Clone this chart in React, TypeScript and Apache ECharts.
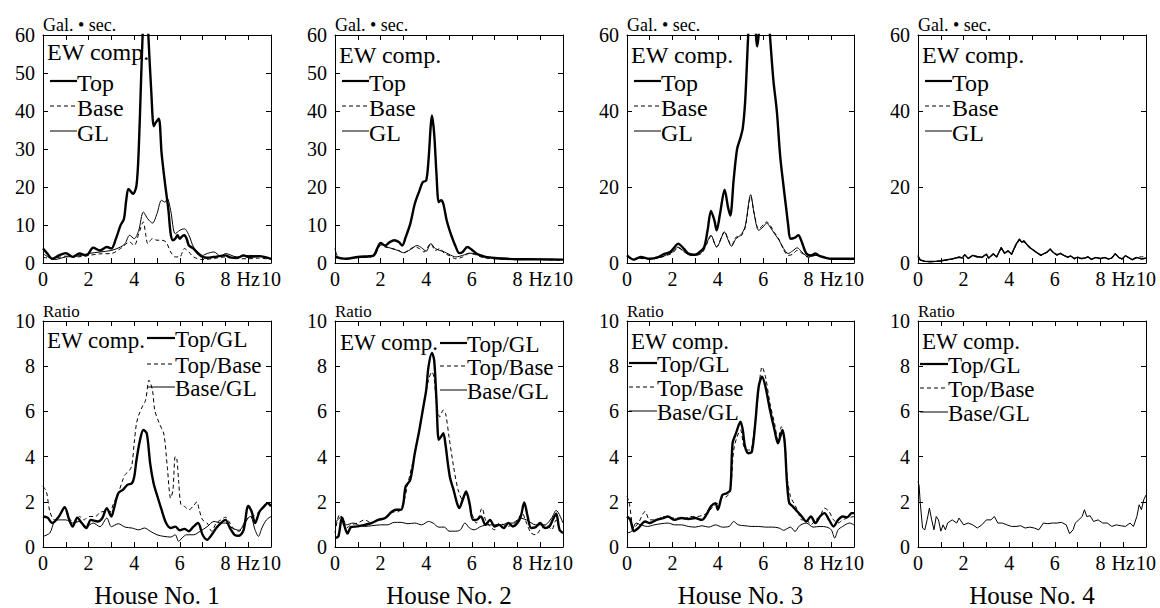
import React, { useEffect, useRef } from 'react';
import * as echarts from 'echarts';

// ---------- Data: [frequency (Hz), value] ----------
// Top row: Fourier spectra (Gal·sec)
const h1Top = [[0,3.8],[0.2,2.4],[0.4,1.1],[0.7,2.0],[1.0,2.6],[1.3,1.6],[1.6,2.5],[1.9,2.0],[2.2,4.0],[2.5,3.3],[2.8,4.2],[3.0,3.8],[3.2,6.4],[3.4,9.9],[3.55,11.6],[3.65,16.5],[3.75,19.5],[3.95,18.2],[4.1,20.4],[4.2,30],[4.3,48],[4.37,60],[4.45,72],[4.55,70],[4.62,60],[4.75,45],[4.86,36],[4.95,37],[5.08,38],[5.2,29],[5.35,21],[5.5,14],[5.6,7.7],[5.7,6],[5.8,6.4],[5.9,7.3],[6.0,6.4],[6.1,7],[6.2,7.3],[6.3,6.4],[6.4,4.6],[6.6,3.8],[6.8,2.5],[7.0,1.6],[7.2,1.4],[7.5,1.6],[8.0,2],[8.2,1.5],[8.5,1.3],[8.8,2],[9.0,1.6],[9.5,1.8],[10,1.1]];
const h1Base = [[0,1.5],[0.4,1.2],[1.0,1.8],[1.5,1.6],[2.0,2.0],[2.5,2.4],[3.0,2.5],[3.4,3.8],[3.8,5.5],[4.0,4.6],[4.2,7.7],[4.4,10.8],[4.5,7.7],[4.6,5.1],[4.8,6.4],[5.0,6.0],[5.2,6.0],[5.4,5.5],[5.6,2.9],[5.8,1.6],[6.0,1.6],[6.2,3.8],[6.4,2.9],[6.6,1.6],[7.0,0.9],[7.5,1.2],[8.0,1.6],[8.5,1.2],[9.0,1.1],[9.5,1.3],[10,0.9]];
const h1GL = [[0,2.5],[0.5,0.9],[1.0,1.6],[1.5,1.8],[2.0,2.5],[2.5,2.9],[3.0,3.3],[3.4,4.2],[3.6,5.1],[3.8,7.3],[4.0,6.4],[4.2,8.6],[4.4,13.4],[4.6,11.6],[4.8,10.5],[5.0,13],[5.2,16.5],[5.35,16],[5.45,17],[5.6,13.8],[5.8,7.7],[6.0,8.6],[6.2,9.0],[6.4,7.3],[6.6,4.2],[6.8,2.9],[7.0,2.0],[7.2,2.5],[7.5,2.9],[7.8,1.7],[8.0,2.5],[8.5,1.6],[9.0,2.0],[9.5,1.8],[10,1.1]];

const h2Top = [[0,1.6],[0.5,1.1],[1,1.6],[1.5,1.8],[1.7,2.0],[1.85,3.8],[2.0,5.3],[2.2,4.6],[2.4,5.5],[2.6,6.0],[2.8,5.5],[2.95,4.6],[3.1,6.8],[3.3,10.3],[3.5,15.6],[3.7,19],[3.85,21.3],[4.0,21.7],[4.1,27],[4.2,36.2],[4.25,38.8],[4.35,34],[4.45,23.5],[4.55,16],[4.65,16.5],[4.75,15.6],[4.9,11.2],[5.1,7.3],[5.3,4.2],[5.45,2.6],[5.6,2.9],[5.8,4.2],[6.0,3.5],[6.2,2.5],[6.4,2.0],[6.6,1.6],[7,1.3],[7.5,1.1],[8,1.0],[9,0.95],[10,0.9]];
const h2Base = [[0,1.4],[0.5,1.1],[1,1.4],[1.7,1.8],[1.9,3.8],[2.0,4.6],[2.2,4.2],[2.5,3.8],[2.8,3.3],[3.0,2.6],[3.2,3.3],[3.5,4.2],[3.7,3.8],[3.9,2.9],[4.2,5.1],[4.4,3.3],[4.6,3.8],[4.8,2.5],[5.0,2.0],[5.3,1.1],[5.6,1.6],[5.9,2.5],[6.2,2.1],[6.5,1.4],[7,1.1],[8,0.9],[9,0.9],[10,0.7]];
const h2GL = [[0,3.8],[0.2,1.1],[1,1.4],[1.7,1.8],[1.9,4.2],[2.0,5.0],[2.2,4.4],[2.5,3.8],[2.8,3.2],[3.0,2.7],[3.3,3.5],[3.6,4.6],[3.8,4.0],[4.0,3.1],[4.2,5.1],[4.4,3.8],[4.6,3.3],[4.8,2.9],[5.0,2.3],[5.3,1.6],[5.6,2.0],[5.9,2.6],[6.2,2.3],[6.5,1.6],[7,1.4],[8,1.1],[9,1.0],[10,0.9]];

const h3Top = [[0,2.0],[0.3,0.9],[0.6,1.6],[1,1.1],[1.4,1.6],[1.6,2.3],[1.9,2.9],[2.1,4.2],[2.25,5.1],[2.5,3.8],[2.7,2.5],[3.0,2.2],[3.2,2.9],[3.4,4.2],[3.55,8.6],[3.7,13.7],[3.85,11.2],[3.95,8.6],[4.1,13],[4.3,19.3],[4.45,14.7],[4.55,12.5],[4.7,22],[4.85,30],[5.0,33],[5.1,35.5],[5.2,42],[5.28,52],[5.34,60],[5.45,70],[5.6,66],[5.74,57],[5.8,60],[5.95,72],[6.1,74],[6.25,64],[6.32,58],[6.45,48],[6.6,40],[6.75,28],[6.9,20],[7.0,15],[7.1,10],[7.2,6.4],[7.4,6.7],[7.55,7.3],[7.7,5.5],[7.9,2.5],[8.1,2.0],[8.3,2.5],[8.5,1.8],[9,1.1],[10,1.1]];
const h3Base = [[0,1.8],[0.3,0.8],[0.6,1.2],[1,1.0],[1.5,1.5],[2.0,2.6],[2.25,4.0],[2.5,3.0],[2.8,2.0],[3.0,2.0],[3.3,2.6],[3.5,4.8],[3.7,7.0],[3.95,4.3],[4.3,8.3],[4.45,6.3],[4.6,4.6],[4.8,6.8],[5.0,7.0],[5.2,9.2],[5.45,17.5],[5.6,13.2],[5.8,9.0],[6.0,10.0],[6.15,10.8],[6.3,10.0],[6.5,8.0],[6.7,6.2],[6.9,3.5],[7.1,2.0],[7.3,2.3],[7.5,3.3],[7.7,2.6],[8.0,1.5],[8.3,2.0],[8.6,1.5],[9,1.0],[10,0.9]];
const h3GL = [[0,2],[0.3,0.9],[0.6,1.3],[1,1.1],[1.5,1.6],[2.0,2.9],[2.25,4.2],[2.5,3.1],[2.8,2.0],[3.0,2.0],[3.3,2.9],[3.5,5.1],[3.7,7.3],[3.95,4.2],[4.3,8.1],[4.45,6.1],[4.6,4.4],[4.8,6.4],[5.0,7.3],[5.2,9.5],[5.45,18],[5.6,13],[5.8,8.6],[6.0,9.5],[6.15,10.5],[6.3,9.5],[6.5,7.7],[6.7,6],[6.9,3.8],[7.1,2.5],[7.3,3.2],[7.5,4.0],[7.7,2.9],[8.0,1.6],[8.3,2.0],[8.6,1.6],[9,1.1],[10,1.0]];

const h4Top = [[0,1.8],[0.1,0.8],[0.3,0.5],[0.5,0.4],[0.8,0.5],[1.0,0.6],[1.2,0.8],[1.5,1.1],[1.8,1.5],[1.95,1.3],[2.05,2.2],[2.2,1.2],[2.4,2.0],[2.6,1.7],[2.8,1.5],[3.0,2.3],[3.1,1.3],[3.3,2.4],[3.45,1.6],[3.65,4.0],[3.8,2.6],[3.95,3.2],[4.1,2.3],[4.3,4.9],[4.45,6.2],[4.55,5.5],[4.65,5.8],[4.8,4.7],[4.95,3.9],[5.1,3.2],[5.25,2.6],[5.4,2.1],[5.5,2.4],[5.65,2.8],[5.8,3.6],[5.95,2.7],[6.1,2.2],[6.25,2.5],[6.4,2.0],[6.55,1.6],[6.7,1.8],[6.85,1.2],[7.0,1.5],[7.15,1.2],[7.3,1.3],[7.45,1.6],[7.6,1.0],[7.8,1.4],[8.0,1.2],[8.2,1.4],[8.35,1.1],[8.5,1.3],[8.65,2.4],[8.8,1.5],[8.95,1.1],[9.1,1.9],[9.25,1.4],[9.4,0.9],[9.6,1.4],[9.8,1.1],[10,1.3]];
const h4Base = [[0,1.6],[0.1,0.6],[0.3,0.4],[0.5,0.3],[0.8,0.4],[1.0,0.5],[1.2,0.7],[1.5,1.0],[1.8,1.5],[1.95,1.3],[2.05,2.1],[2.2,1.1],[2.4,1.9],[2.6,1.5],[2.8,1.4],[3.0,2.2],[3.1,1.2],[3.3,2.3],[3.45,1.5],[3.65,4.0],[3.8,2.4],[3.95,3.1],[4.1,2.1],[4.3,4.7],[4.45,6.0],[4.55,5.3],[4.65,5.6],[4.8,4.5],[4.95,3.7],[5.1,3.2],[5.25,2.4],[5.4,1.9],[5.5,2.3],[5.65,2.8],[5.8,3.6],[5.95,2.5],[6.1,2.0],[6.25,2.5],[6.4,1.9],[6.55,1.4],[6.7,1.8],[6.85,1.0],[7.0,1.5],[7.15,1.1],[7.3,1.1],[7.45,1.6],[7.6,0.9],[7.8,1.4],[8.0,1.1],[8.2,1.4],[8.35,1.0],[8.5,1.3],[8.65,2.4],[8.8,1.4],[8.95,1.0],[9.1,1.9],[9.25,1.4],[9.4,1.0],[9.6,1.6],[9.8,1.6],[10,1.8]];
const h4GL = [[0,2],[0.1,0.7],[0.3,0.4],[0.5,0.3],[0.8,0.4],[1.0,0.5],[1.2,0.7],[1.5,1.1],[1.8,1.6],[1.95,1.4],[2.05,2.3],[2.2,1.2],[2.4,2.0],[2.6,1.6],[2.8,1.5],[3.0,2.4],[3.1,1.2],[3.3,2.5],[3.45,1.6],[3.65,4.2],[3.8,2.5],[3.95,3.3],[4.1,2.2],[4.3,5.0],[4.45,6.4],[4.55,5.4],[4.65,5.9],[4.8,4.6],[4.95,3.8],[5.1,3.3],[5.25,2.5],[5.4,2.0],[5.5,2.4],[5.65,2.9],[5.8,3.8],[5.95,2.6],[6.1,2.1],[6.25,2.6],[6.4,2.0],[6.55,1.5],[6.7,1.9],[6.85,1.1],[7.0,1.6],[7.15,1.2],[7.3,1.2],[7.45,1.7],[7.6,0.9],[7.8,1.5],[8.0,1.2],[8.2,1.5],[8.35,1.0],[8.5,1.3],[8.65,2.6],[8.8,1.4],[8.95,1.0],[9.1,2.0],[9.25,1.3],[9.4,0.8],[9.6,1.5],[9.8,1.0],[10,1.2]];

// Bottom row: spectral ratios
const r1TopGL = [[0,1.35],[0.2,1.3],[0.4,1.06],[0.7,1.35],[0.95,1.76],[1.15,1.2],[1.3,0.9],[1.5,1.3],[1.7,1.06],[1.9,0.84],[2.1,1.2],[2.4,1.13],[2.6,1.28],[2.8,1.72],[3.0,1.35],[3.1,1.65],[3.3,2.38],[3.5,2.53],[3.7,2.75],[3.9,2.82],[4.0,3.1],[4.1,3.85],[4.25,4.7],[4.4,5.18],[4.55,5.03],[4.7,3.7],[4.85,2.82],[5.0,2.3],[5.2,1.65],[5.4,1.06],[5.6,0.84],[5.8,0.9],[6.0,0.74],[6.2,0.8],[6.4,0.7],[6.6,0.9],[6.8,1.06],[7.0,0.54],[7.2,0.32],[7.4,0.54],[7.6,0.84],[7.8,1.06],[8.0,1.2],[8.2,0.84],[8.4,0.54],[8.6,0.5],[8.8,0.76],[9.0,1.82],[9.15,1.57],[9.3,1.06],[9.5,1.57],[9.7,1.8],[9.85,1.94],[10,1.8]];
const r1TopBase = [[0,2.68],[0.15,2.45],[0.3,1.57],[0.5,1.2],[0.7,1.35],[0.95,1.72],[1.2,1.2],[1.4,1.06],[1.6,1.35],[1.8,1.2],[2.0,1.35],[2.3,1.35],[2.5,1.53],[2.7,1.57],[2.9,1.5],[3.1,1.94],[3.3,2.38],[3.5,2.97],[3.6,3.2],[3.8,3.4],[3.9,3.63],[4.0,4.6],[4.1,5.47],[4.2,5.84],[4.35,6.2],[4.5,6.5],[4.65,7.38],[4.8,6.94],[4.9,6.06],[5.1,5.47],[5.3,5.0],[5.45,3.56],[5.6,2.16],[5.7,2.53],[5.8,4.0],[5.87,3.9],[5.95,2.9],[6.05,1.87],[6.2,1.8],[6.4,1.65],[6.6,1.82],[6.75,2.0],[6.85,1.65],[7.0,1.2],[7.2,1.06],[7.4,0.7],[7.6,1.06],[7.8,1.2],[8.0,1.32],[8.2,1.06],[8.4,0.76],[8.6,0.7],[8.8,0.91],[9.0,1.28],[9.2,1.35],[9.4,1.5],[9.6,1.65],[9.8,1.94],[10,1.94]];
const r1BaseGL = [[0,0.47],[0.3,0.62],[0.5,1.13],[0.7,1.2],[1.0,1.2],[1.3,1.06],[1.6,1.13],[1.9,0.9],[2.2,1.06],[2.5,0.9],[2.8,1.28],[3.0,0.9],[3.3,1.03],[3.6,0.88],[3.9,0.84],[4.2,0.76],[4.45,0.84],[4.7,0.7],[5.0,0.54],[5.3,0.47],[5.6,0.44],[5.8,0.54],[5.95,0.25],[6.1,0.4],[6.3,0.54],[6.6,0.54],[6.9,0.7],[7.2,0.9],[7.5,1.13],[7.8,1.06],[8.0,1.06],[8.3,0.84],[8.6,0.74],[8.9,1.2],[9.1,1.35],[9.3,0.76],[9.45,0.47],[9.6,0.84],[9.8,1.2],[10,1.35]];

const r2TopGL = [[0,0.4],[0.15,0.47],[0.3,1.28],[0.4,0.98],[0.55,0.59],[0.7,0.88],[1.0,0.91],[1.3,0.98],[1.6,1.06],[1.9,1.2],[2.2,1.28],[2.5,1.57],[2.7,1.65],[2.9,1.65],[3.0,1.94],[3.1,2.68],[3.3,2.97],[3.5,4.15],[3.7,5.18],[3.9,6.35],[4.0,6.94],[4.1,7.97],[4.25,8.59],[4.35,8.26],[4.45,6.5],[4.55,4.74],[4.65,4.88],[4.75,5.03],[4.85,4.5],[4.95,3.7],[5.05,3.04],[5.2,2.53],[5.35,1.94],[5.45,1.72],[5.6,2.09],[5.75,2.46],[5.9,1.94],[6.05,1.2],[6.2,1.2],[6.4,1.35],[6.6,0.98],[6.8,1.2],[7.0,0.91],[7.2,0.98],[7.4,0.84],[7.6,1.06],[7.8,0.91],[8.0,1.06],[8.15,1.35],[8.3,1.97],[8.45,1.35],[8.6,0.84],[8.8,0.88],[9.0,1.06],[9.2,0.84],[9.4,0.91],[9.55,1.2],[9.7,1.47],[9.85,0.76],[10,0.62]];
const r2TopBase = [[0,0.62],[0.2,1.43],[0.35,1.2],[0.5,0.84],[0.7,0.98],[1.0,1.06],[1.3,1.2],[1.6,1.06],[1.9,1.2],[2.2,1.28],[2.5,1.53],[2.8,1.57],[3.0,1.94],[3.2,2.82],[3.5,4.15],[3.7,5.18],[3.9,6.35],[4.1,7.38],[4.25,7.75],[4.35,7.46],[4.45,6.35],[4.6,5.76],[4.75,6.06],[4.85,5.91],[5.0,4.88],[5.2,3.56],[5.4,2.53],[5.6,2.09],[5.75,2.38],[5.95,1.65],[6.2,1.06],[6.45,1.72],[6.6,1.2],[6.8,0.91],[7.0,0.76],[7.2,1.06],[7.4,0.98],[7.6,0.91],[7.8,1.06],[8.0,1.2],[8.2,1.5],[8.4,1.06],[8.6,0.62],[8.8,0.54],[9.0,0.76],[9.3,0.98],[9.5,0.76],[9.7,1.2],[9.85,0.76],[10,0.62]];
const r2BaseGL = [[0,1.06],[0.3,1.35],[0.5,0.98],[0.8,1.06],[1.0,0.98],[1.3,0.91],[1.6,0.94],[2.0,0.98],[2.3,0.98],[2.6,1.09],[2.9,1.09],[3.2,1.03],[3.5,1.06],[3.8,0.98],[4.1,1.13],[4.3,1.06],[4.55,0.88],[4.8,0.88],[5.0,0.7],[5.3,0.7],[5.5,0.76],[5.7,1.06],[5.9,0.84],[6.1,0.76],[6.4,0.91],[6.7,0.98],[7.0,0.98],[7.3,0.98],[7.6,1.06],[7.9,1.06],[8.1,1.28],[8.4,1.2],[8.8,0.98],[9.2,0.98],[9.5,1.28],[9.7,1.62],[10,1.06]];

const r3TopGL = [[0,1.35],[0.15,1.2],[0.3,0.7],[0.5,0.84],[0.8,1.13],[1.0,1.06],[1.3,1.2],[1.6,1.28],[1.8,1.35],[2.1,1.2],[2.4,1.28],[2.7,1.24],[3.0,1.28],[3.3,1.2],[3.5,1.43],[3.7,1.8],[3.9,1.94],[4.0,1.65],[4.2,2.3],[4.4,2.38],[4.55,2.53],[4.65,4.59],[4.8,5.03],[5.0,5.54],[5.1,5.18],[5.2,4.44],[5.35,4.15],[5.5,4.22],[5.65,5.47],[5.8,7.09],[5.95,7.53],[6.1,7.09],[6.3,6.06],[6.5,5.18],[6.65,4.59],[6.75,4.88],[6.85,5.18],[6.95,4.59],[7.05,2.82],[7.15,1.94],[7.3,1.8],[7.5,1.57],[7.7,1.35],[7.9,1.13],[8.1,1.35],[8.3,1.06],[8.5,1.35],[8.7,1.5],[8.9,1.2],[9.1,0.91],[9.3,1.2],[9.5,1.35],[9.7,1.32],[9.9,1.5],[10,1.5]];
const r3TopBase = [[0,2.24],[0.1,1.94],[0.3,0.84],[0.5,1.06],[0.8,1.57],[1.0,1.2],[1.3,1.2],[1.6,1.35],[1.9,1.28],[2.2,1.28],[2.5,1.24],[2.8,1.35],[3.1,1.35],[3.4,1.43],[3.6,1.57],[3.8,1.8],[4.0,1.94],[4.2,2.16],[4.4,2.24],[4.55,2.46],[4.7,4.29],[4.85,4.88],[5.0,5.18],[5.15,4.44],[5.3,4.29],[5.45,4.29],[5.6,5.18],[5.8,6.94],[5.95,7.97],[6.1,7.53],[6.3,6.35],[6.5,5.47],[6.65,4.74],[6.8,5.32],[6.95,4.74],[7.05,3.12],[7.2,2.24],[7.35,1.94],[7.5,1.65],[7.7,1.2],[7.9,1.2],[8.1,0.98],[8.3,1.2],[8.5,1.35],[8.7,1.72],[8.9,1.57],[9.1,1.2],[9.3,1.06],[9.5,1.2],[9.7,1.28],[10,1.35]];
const r3BaseGL = [[0,0.62],[0.2,0.69],[0.4,1.06],[0.6,0.98],[0.9,0.91],[1.2,0.98],[1.5,1.03],[1.8,1.06],[2.1,0.98],[2.4,0.98],[2.7,0.91],[3.0,0.88],[3.3,0.94],[3.6,0.88],[3.9,0.98],[4.2,0.88],[4.5,0.91],[4.7,1.13],[4.9,0.98],[5.2,0.94],[5.5,0.91],[5.8,0.91],[6.1,0.88],[6.4,0.88],[6.7,0.84],[6.9,0.74],[7.2,0.88],[7.4,0.69],[7.6,0.94],[7.9,1.06],[8.2,0.88],[8.5,0.91],[8.8,0.88],[9.0,0.76],[9.15,0.4],[9.3,0.76],[9.5,0.91],[9.8,1.06],[10,0.98]];

const r4TopGL: number[][] = [];
const r4TopBase: number[][] = [];
const r4BaseGL = [[0,2.9],[0.05,2.7],[0.1,1.94],[0.2,0.84],[0.3,0.76],[0.4,1.2],[0.5,1.72],[0.6,1.2],[0.7,0.76],[0.8,1.35],[0.9,1.2],[1.0,0.7],[1.1,0.98],[1.2,0.76],[1.3,1.06],[1.5,1.2],[1.7,1.06],[1.8,1.28],[2.0,0.98],[2.2,1.06],[2.4,0.98],[2.6,0.84],[2.8,0.98],[3.0,1.2],[3.2,1.2],[3.35,1.35],[3.5,1.06],[3.7,1.06],[3.9,0.98],[4.1,0.91],[4.3,0.91],[4.5,0.94],[4.7,0.84],[4.9,0.88],[5.1,0.84],[5.3,0.76],[5.5,1.06],[5.7,1.03],[5.9,1.06],[6.1,1.06],[6.3,1.09],[6.5,0.98],[6.65,0.59],[6.8,0.76],[6.9,1.06],[7.05,1.2],[7.2,1.35],[7.3,1.65],[7.4,1.35],[7.55,1.38],[7.7,1.13],[7.9,1.2],[8.1,1.06],[8.3,1.06],[8.5,0.91],[8.7,0.98],[8.9,0.94],[9.1,0.91],[9.3,1.06],[9.45,0.91],[9.6,1.35],[9.7,1.87],[9.8,1.65],[9.9,2.09],[10,2.3]];

// Labels
const houseTitles = ['House No. 1', 'House No. 2', 'House No. 3', 'House No. 4'];
const spectrumNames = ['Top', 'Base', 'GL'];
const ratioNames = ['Top/GL', 'Top/Base', 'Base/GL'];
const compLabel = 'EW comp.';
const spectrumUnit = 'Gal. • sec.';
const ratioUnit = 'Ratio';
const freqUnit = 'Hz';
const spectrumYMax = 60;
const ratioYMax = 10;
const spectrumYIntervals = [10, 10, 20, 20];
const ratioYInterval = 2;

const FONT = "'Liberation Serif', 'Times New Roman', Times, serif";

export default function App() {
  const ref = useRef<HTMLDivElement>(null);
  useEffect(() => {
    const chart = echarts.init(ref.current!, null, { renderer: 'svg' });

    const lefts = [43, 335, 627, 918];
    const widths = [228, 228, 227, 228];
    const topRow = { top: 35, height: 228 };
    const botRow = { top: 321, height: 226 };

    const spectra = [[h1Top, h1Base, h1GL], [h2Top, h2Base, h2GL], [h3Top, h3Base, h3GL], [h4Top, h4Base, h4GL]];
    const ratios = [[r1TopGL, r1TopBase, r1BaseGL], [r2TopGL, r2TopBase, r2BaseGL], [r3TopGL, r3TopBase, r3BaseGL], [r4TopGL, r4TopBase, r4BaseGL]];

    const styles = [
      { width: 2.4, type: 'solid' as any },
      { width: 1, type: [4, 3] as any },
      { width: 1, type: 'solid' as any },
    ];

    const grid: any[] = [];
    const xAxis: any[] = [];
    const yAxis: any[] = [];
    const series: any[] = [];
    const graphic: any[] = [];

    const xfmt = (v: number) => (v === 9 ? freqUnit : v % 2 === 0 ? String(v) : '');
    const axisCommon = {
      axisLine: { show: true, onZero: false, lineStyle: { color: '#000', width: 1 } },
      axisTick: { show: true, inside: true, length: 5, lineStyle: { color: '#000', width: 1 } },
      splitLine: { show: false },
    };

    const addPanel = (gi: number, left: number, width: number, top: number, height: number, ymax: number, yint: number, datas: any[], names: string[], smoothAll: boolean, thickTop: number) => {
      grid.push({ left, top, width, height });
      const xb = xAxis.length;
      xAxis.push({ type: 'value', gridIndex: gi, min: 0, max: 10, interval: 1, position: 'bottom', ...axisCommon,
        axisLabel: { color: '#000', fontFamily: FONT, fontSize: 20, margin: 6, formatter: xfmt } });
      xAxis.push({ type: 'value', gridIndex: gi, min: 0, max: 10, interval: 1, position: 'top', ...axisCommon, axisLabel: { show: false } });
      const yb = yAxis.length;
      yAxis.push({ type: 'value', gridIndex: gi, min: 0, max: ymax, interval: yint, position: 'left', ...axisCommon,
        axisLabel: { color: '#000', fontFamily: FONT, fontSize: 20, margin: 8 } });
      yAxis.push({ type: 'value', gridIndex: gi, min: 0, max: ymax, interval: yint, position: 'right', ...axisCommon, axisLabel: { show: false } });
      datas.forEach((d, k) => {
        const st = styles[k];
        series.push({
          type: 'line', name: names[k], xAxisIndex: xb, yAxisIndex: yb, data: d,
          showSymbol: false, symbol: 'none', smooth: smoothAll ? 0.3 : false, clip: true, silent: true,
          lineStyle: { color: '#000', width: k === 0 ? thickTop : st.width, type: st.type },
          z: 3 - k,
        });
      });
    };

    for (let i = 0; i < 4; i++) {
      addPanel(i, lefts[i], widths[i], topRow.top, topRow.height, spectrumYMax, spectrumYIntervals[i], spectra[i], spectrumNames, i !== 3, i === 3 ? 1.4 : 2.4);
    }
    for (let i = 0; i < 4; i++) {
      addPanel(4 + i, lefts[i], widths[i], botRow.top, botRow.height, ratioYMax, ratioYInterval, ratios[i], ratioNames, i !== 3, 2.4);
    }

    const txt = (text: string, x: number, y: number, size: number, align = 'left') => ({
      type: 'text', x, y, silent: true,
      style: { text, fill: '#000', fontFamily: FONT, fontSize: size, textAlign: align, textVerticalAlign: 'middle', align, verticalAlign: 'middle' },
    });
    const seg = (x1: number, x2: number, y: number, k: number) => ({
      type: 'line', silent: true,
      shape: { x1, y1: y, x2, y2: y },
      style: { stroke: '#000', lineWidth: k === 0 ? 2.2 : 1, lineDash: k === 1 ? [4, 3] : null },
    });

    const LEG = 23;
    // top-row legends
    const topEwDy = [17, 20, 20, 20];
    const topRowsDy = [48, 73, 98];
    for (let i = 0; i < 4; i++) {
      const L = lefts[i];
      const T = topRow.top;
      graphic.push(txt(spectrumUnit, L, 25, 18));
      graphic.push(txt(compLabel, L + 4, T + topEwDy[i], LEG + 1));
      spectrumNames.forEach((n, k) => {
        graphic.push(seg(L + 7, L + 34, T + topRowsDy[k] - 2, k));
        graphic.push(txt(n, L + 34, T + topRowsDy[k], LEG + 1));
      });
    }
    // bottom-row legends
    const botEw = [[4, 19], [5, 21], [4, 20], [4, 20]];
    const botLine = [[104, 132], [105, 132], [2, 30], [2, 30]];
    const botRows = [[18, 44, 67], [23, 46, 70], [43, 67, 91], [44, 68, 92]];
    for (let i = 0; i < 4; i++) {
      const L = lefts[i];
      const T = botRow.top;
      graphic.push(txt(ratioUnit, L, 311, 17));
      graphic.push(txt(compLabel, L + botEw[i][0], T + botEw[i][1], LEG));
      ratioNames.forEach((n, k) => {
        graphic.push(seg(L + botLine[i][0], L + botLine[i][1], T + botRows[i][k] - 1, k));
        graphic.push(txt(n, L + botLine[i][1], T + botRows[i][k], LEG));
      });
      graphic.push(txt(houseTitles[i], L + widths[i] / 2, 595, 25, 'center'));
    }

    chart.setOption({
      animation: false,
      backgroundColor: '#fff',
      textStyle: { fontFamily: FONT },
      grid, xAxis, yAxis, series, graphic,
    });
    return () => chart.dispose();
  }, []);

  return <div ref={ref} style={{ position: 'fixed', left: 0, top: 0, width: 1160, height: 608, background: '#fff' }} />;
}
